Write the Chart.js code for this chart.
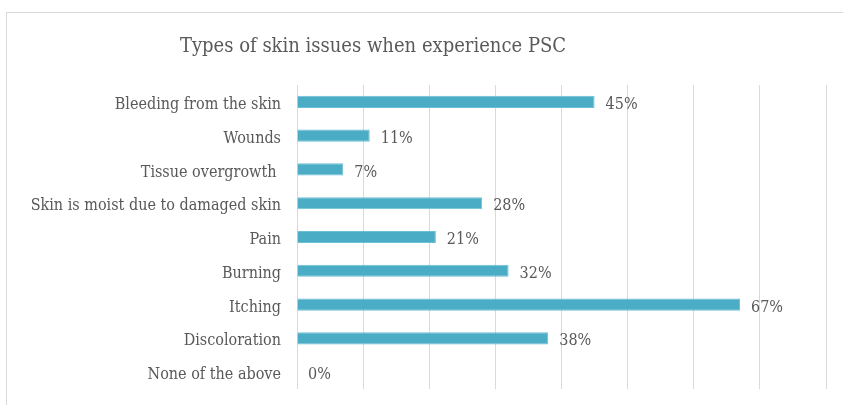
<!DOCTYPE html>
<html lang="en">
<head>
  <meta charset="UTF-8" />
  <title>Types of skin issues when experience PSC</title>
  <script src="https://cdn.jsdelivr.net/npm/chart.js"></script>
  <style>
    body {
      margin: 0;
      background: #fff;
      width: 843px;
      height: 405px;
      overflow: hidden;
      position: relative;
    }
    .frame {
      position: absolute;
      left: 6px;
      top: 12px;
      width: 1000px;
      height: 1000px;
      border: 1px solid #d9d9d9;
    }
    #chart {
      position: absolute;
      left: 0;
      top: 0;
    }
  </style>
</head>
<body>
  <div class="frame"></div>
  <canvas id="chart" width="843" height="405"></canvas>
<script>
const categories = [
  "Bleeding from the skin",
  "Wounds",
  "Tissue overgrowth ",
  "Skin is moist due to damaged skin",
  "Pain",
  "Burning",
  "Itching",
  "Discoloration",
  "None of the above"
];
const percents = [45, 11, 7, 28, 21, 32, 67, 38, 0];
const axisTicks = [0, 10, 20, 30, 40, 50, 60, 70, 80];

const titleText = "Types of skin issues when experience PSC";
const serif = "'DejaVu Serif Condensed', 'DejaVu Serif', serif";
const grey = "#595959";

// title sits left of centre like in the original, so draw it ourselves
const titlePlugin = {
  id: "fixedTitle",
  afterDraw(chart) {
    const ctx = chart.ctx;
    ctx.save();
    ctx.font = "20px " + serif;
    ctx.fillStyle = grey;
    ctx.textAlign = "center";
    ctx.textBaseline = "alphabetic";
    ctx.fillText(titleText, 373, 52);
    ctx.restore();
  }
};

const valueLabels = {
  id: "valueLabels",
  afterDatasetsDraw(chart) {
    const ctx = chart.ctx;
    const meta = chart.getDatasetMeta(0);
    ctx.save();
    ctx.font = "16px " + serif;
    ctx.fillStyle = grey;
    ctx.textAlign = "left";
    ctx.textBaseline = "middle";
    meta.data.forEach((bar, i) => {
      ctx.fillText(percents[i] + "%", bar.x + 11, bar.y + 3);
    });
    ctx.restore();
  }
};

new Chart(document.getElementById("chart"), {
  type: "bar",
  data: {
    labels: categories,
    datasets: [{
      data: percents,
      backgroundColor: "#4bacc6",
      borderColor: "#6cc0d6",
      borderWidth: 1,
      barPercentage: 0.36,
      categoryPercentage: 1
    }]
  },
  options: {
    indexAxis: "y",
    responsive: false,
    devicePixelRatio: 1,
    animation: false,
    layout: { padding: { left: 0, right: 17, top: 85, bottom: 16 } },
    plugins: {
      legend: { display: false },
      title: { display: false },
      tooltip: { enabled: false }
    },
    scales: {
      x: {
        min: axisTicks[0],
        max: axisTicks[axisTicks.length - 1],
        afterBuildTicks(axis) {
          axis.ticks = axisTicks.map(v => ({ value: v }));
        },
        ticks: { display: false },
        grid: { color: "#d9d9d9", lineWidth: 1, drawTicks: false },
        border: { display: false },
        afterFit(axis) { axis.height = 0; }
      },
      y: {
        grid: { display: false, drawTicks: false },
        border: { display: false },
        ticks: {
          color: grey,
          padding: 16,
          labelOffset: 3,
          font: { family: serif, size: 16 }
        },
        afterFit(axis) {
          axis.width = 297;
          axis.paddingTop = 0;
          axis.paddingBottom = 0;
        }
      }
    }
  },
  plugins: [titlePlugin, valueLabels]
});
</script>
</body>
</html>
